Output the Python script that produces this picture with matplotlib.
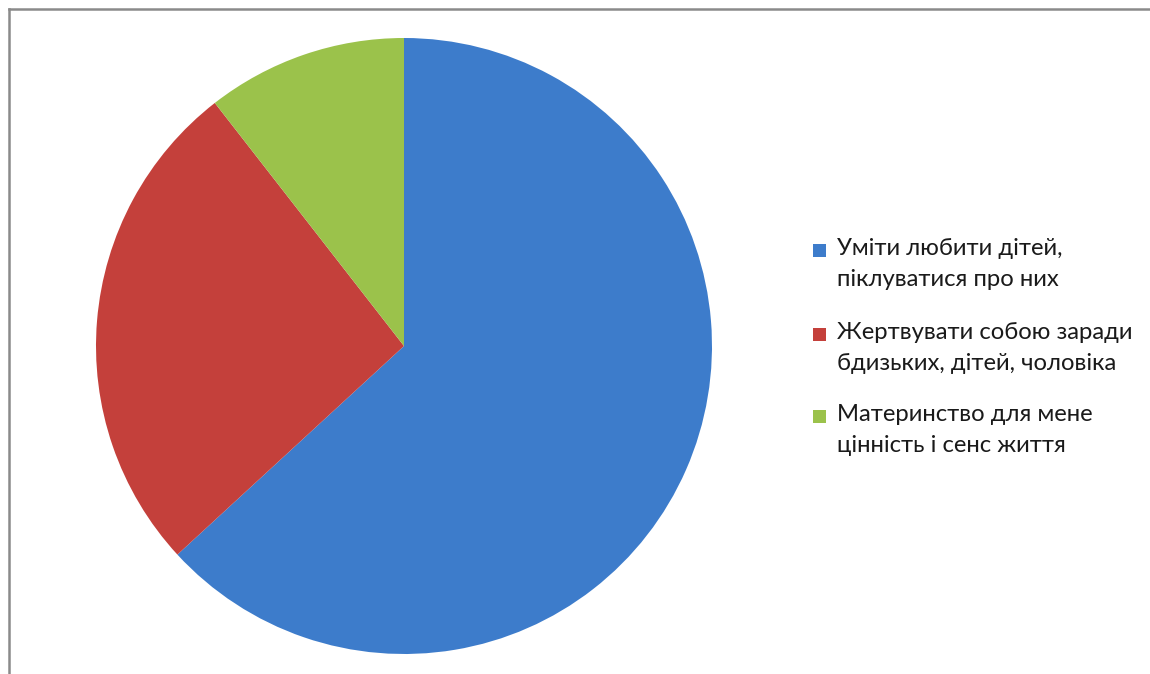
import matplotlib.pyplot as plt
from matplotlib.lines import Line2D
from matplotlib.patches import Rectangle

# data (shares out of 19 answers)
labels = [
    "Уміти любити дітей,\nпіклуватися про них",
    "Жертвувати собою заради\nбдизьких, дітей, чоловіка",
    "Материнство для мене\nцінність і сенс життя",
]
counts = [12, 5, 2]
colors = ["#3D7CCB", "#C4403B", "#9BC24B"]

W, H = 1150, 674
fig = plt.figure(figsize=(W / 100, H / 100), dpi=100)
fig.patch.set_facecolor("white")

# pie axes: centre (404, 346), radius 308 px
cx, cy, r = 404, 346, 308
ax = fig.add_axes([(cx - r) / W, (H - cy - r) / H, 2 * r / W, 2 * r / H])
ax.pie(counts, colors=colors, startangle=90, counterclock=False,
       radius=1.0, wedgeprops={"linewidth": 0})
ax.set_xlim(-1, 1)
ax.set_ylim(-1, 1)
ax.set_aspect("equal")
ax.axis("off")

# frame lines (only top and left visible in the crop)
fig.add_artist(Line2D([9 / W, 1], [1 - 9 / H, 1 - 9 / H], transform=fig.transFigure,
                      color="#8a8a8a", linewidth=1.8))
fig.add_artist(Line2D([9 / W, 9 / W], [0, 1 - 9 / H], transform=fig.transFigure,
                      color="#8a8a8a", linewidth=1.8))

# legend drawn by hand so the marker sits on the first line
first_line_y = [250, 334, 416]
for lab, col, y in zip(labels, colors, first_line_y):
    fig.add_artist(Rectangle((813 / W, 1 - (y + 6.5) / H), 13 / W, 13 / H,
                             transform=fig.transFigure, facecolor=col,
                             edgecolor="none"))
    fig.text(837 / W, 1 - (y - 12) / H, lab, fontsize=17.2, family="Lato",
             color="#1a1a1a", va="top", ha="left", linespacing=1.6)

fig.savefig("out.png", dpi=100)
